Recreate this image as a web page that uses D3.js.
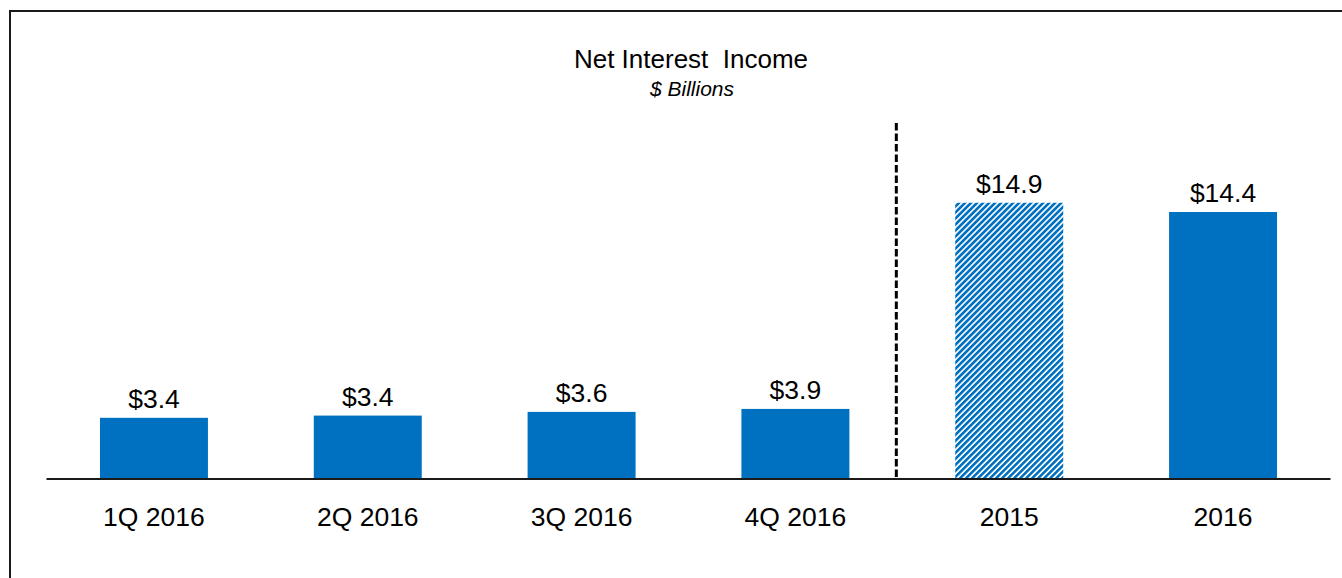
<!DOCTYPE html>
<html>
<head>
<meta charset="utf-8">
<script src="https://cdn.jsdelivr.net/npm/d3@7"></script>
<style>
  html, body { margin: 0; padding: 0; background: #fff; }
  svg { display: block; font-family: "Liberation Sans", Arial, sans-serif; }
</style>
</head>
<body>
<svg id="chart" width="1342" height="578"></svg>
<script>
// ---- Data ----
const categories = ["1Q 2016", "2Q 2016", "3Q 2016", "4Q 2016", "2015", "2016"];
const values = [3.3, 3.42, 3.62, 3.78, 14.9, 14.4];
const valueLabels = ["$3.4", "$3.4", "$3.6", "$3.9", "$14.9", "$14.4"];
const hatched = [false, false, false, false, true, false];
const titleText = "Net Interest  Income";
const subtitleText = "$ Billions";

// ---- Layout ----
const W = 1342, H = 578;
const baseY = 479;
const svg = d3.select("#chart");

const x = d3.scaleBand()
  .domain(categories)
  .range([46.5, 1330.5])
  .paddingInner(0.495)
  .paddingOuter(0.25);

const y = d3.scaleLinear()
  .domain([0, 16])
  .range([baseY, baseY - 16 * 18.54]);

// hatch pattern
const defs = svg.append("defs");
const pat = defs.append("pattern")
  .attr("id", "hatch")
  .attr("patternUnits", "userSpaceOnUse")
  .attr("width", 4.25)
  .attr("height", 10)
  .attr("patternTransform", "rotate(45)");
pat.append("rect").attr("width", 4.25).attr("height", 10).attr("fill", "#ffffff");
pat.append("rect").attr("width", 2.6).attr("height", 10).attr("fill", "#0070C0");

// frame
svg.append("path")
  .attr("d", `M10,${H} L10,11 L${W},11`)
  .attr("fill", "none")
  .attr("stroke", "#1a1a1a")
  .attr("stroke-width", 2);

// title
svg.append("text")
  .attr("x", 691).attr("y", 68)
  .attr("text-anchor", "middle")
  .attr("font-size", 26)
  .attr("fill", "#000")
  .style("white-space", "pre")
  .text(titleText);
svg.append("text")
  .attr("x", 692).attr("y", 96)
  .attr("text-anchor", "middle")
  .attr("font-size", 21)
  .attr("font-style", "italic")
  .attr("fill", "#000")
  .text(subtitleText);

// bars
svg.selectAll("rect.bar")
  .data(categories)
  .join("rect")
  .attr("class", "bar")
  .attr("x", d => x(d))
  .attr("y", (d, i) => y(values[i]))
  .attr("width", x.bandwidth())
  .attr("height", (d, i) => y(0) - y(values[i]))
  .attr("fill", (d, i) => hatched[i] ? "url(#hatch)" : "#0070C0");

// value labels
svg.selectAll("text.val")
  .data(categories)
  .join("text")
  .attr("class", "val")
  .attr("x", d => x(d) + x.bandwidth() / 2)
  .attr("y", (d, i) => y(values[i]) - 10)
  .attr("text-anchor", "middle")
  .attr("font-size", 26.5)
  .attr("fill", "#000")
  .text((d, i) => valueLabels[i]);

// x axis
const axis = svg.append("g")
  .attr("transform", `translate(0,${baseY})`)
  .call(d3.axisBottom(x).tickSize(0).tickPadding(0));
axis.select(".domain")
  .attr("d", `M${x.range()[0]},0H${x.range()[1]}`)
  .attr("stroke", "#1a1a1a")
  .attr("stroke-width", 2);
axis.selectAll(".tick text")
  .attr("dy", 0)
  .attr("y", 47)
  .attr("font-size", 26.5)
  .attr("font-family", "Liberation Sans, Arial, sans-serif")
  .attr("fill", "#000");

// divider between quarters and years
const divX = (x("4Q 2016") + x.bandwidth() + x("2015")) / 2 - 6;
svg.append("line")
  .attr("x1", divX).attr("x2", divX)
  .attr("y1", 123).attr("y2", baseY)
  .attr("stroke", "#000")
  .attr("stroke-width", 3)
  .attr("stroke-dasharray", "7.5,3");
</script>
</body>
</html>
